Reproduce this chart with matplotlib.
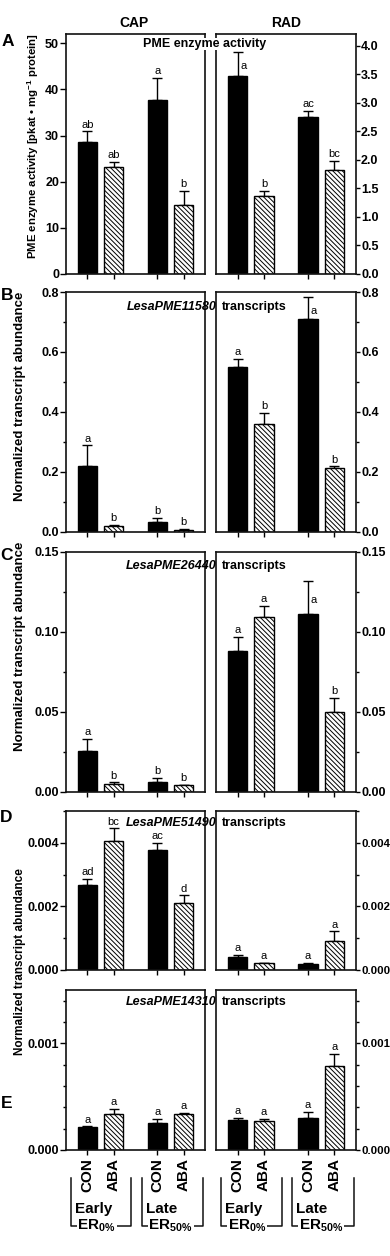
import matplotlib
matplotlib.use('Agg')
import matplotlib.pyplot as plt
from matplotlib.ticker import MultipleLocator, FormatStrFormatter, NullLocator
import matplotlib.transforms as mtransforms
from matplotlib.lines import Line2D

plt.rcParams['font.family'] = ['Liberation Sans', 'DejaVu Sans']
plt.rcParams['font.weight'] = 'bold'
plt.rcParams['mathtext.fontset'] = 'custom'
plt.rcParams['mathtext.rm'] = 'Liberation Sans:bold'
plt.rcParams['mathtext.bf'] = 'Liberation Sans:bold'
plt.rcParams['mathtext.it'] = 'Liberation Sans:bold:italic'
plt.rcParams['mathtext.default'] = 'bf'
plt.rcParams['hatch.linewidth'] = 0.7

# ---------------- data ----------------
conditions = ['CON', 'ABA', 'CON', 'ABA']
stages = ['Early', 'Late']
stage_er = ['0%', '50%']
tissues = ['CAP', 'RAD']
panel_letters = ['A', 'B', 'C', 'D', 'E']
genes = ['PME enzyme activity', 'LesaPME11580', 'LesaPME26440', 'LesaPME51490', 'LesaPME14310']

# Panel A: PME enzyme activity
pme_cap = [28.7, 23.2, 37.7, 14.9]
pme_cap_err = [2.2, 1.1, 4.8, 3.1]
pme_cap_sig = ['ab', 'ab', 'a', 'b']
pme_rad = [3.47, 1.36, 2.76, 1.82]
pme_rad_err = [0.43, 0.10, 0.10, 0.17]
pme_rad_sig = ['a', 'b', 'ac', 'bc']

# Panel B: LesaPME11580
p11580_cap = [0.221, 0.021, 0.032, 0.008]
p11580_cap_err = [0.068, 0.003, 0.015, 0.002]
p11580_cap_sig = ['a', 'b', 'b', 'b']
p11580_rad = [0.550, 0.361, 0.710, 0.213]
p11580_rad_err = [0.028, 0.036, 0.073, 0.006]
p11580_rad_sig = ['a', 'b', 'a', 'b']

# Panel C: LesaPME26440
p26440_cap = [0.0254, 0.0052, 0.0062, 0.0041]
p26440_cap_err = [0.0079, 0.0008, 0.0025, 0.0004]
p26440_cap_sig = ['a', 'b', 'b', 'b']
p26440_rad = [0.0883, 0.1091, 0.1113, 0.0502]
p26440_rad_err = [0.0086, 0.0073, 0.0207, 0.0085]
p26440_rad_sig = ['a', 'a', 'a', 'b']

# Panel D: LesaPME51490
p51490_cap = [0.00266, 0.00407, 0.00376, 0.00211]
p51490_cap_err = [0.00021, 0.00039, 0.00024, 0.00024]
p51490_cap_sig = ['ad', 'bc', 'ac', 'd']
p51490_rad = [0.00040, 0.00021, 0.00019, 0.00090]
p51490_rad_err = [0.00008, 0.00001, 0.00004, 0.00032]
p51490_rad_sig = ['a', 'a', 'a', 'a']

# Panel E: LesaPME14310
p14310_cap = [0.000216, 0.000342, 0.000254, 0.000342]
p14310_cap_err = [0.000007, 0.000047, 0.000041, 0.000009]
p14310_cap_sig = ['a', 'a', 'a', 'a']
p14310_rad = [0.000279, 0.000270, 0.000300, 0.000787]
p14310_rad_err = [0.000021, 0.000025, 0.000057, 0.000113]
p14310_rad_sig = ['a', 'a', 'a', 'a']

# ---------------- layout ----------------
W, H = 390, 1256
fig = plt.figure(figsize=(W / 100, H / 100), dpi=100)


def fx(x):
    return x / W


def fy(y):
    return 1 - y / H


rows_px = [(34, 274), (292, 532), (552, 792), (811, 970), (990, 1150)]
cols_px = [(66, 205), (216, 356)]
xpos = [0, 1, 2.67, 3.67]
bar_w = 0.725
xlim = (-0.82, 4.49)
hatch = '\\' * 7

panels = [
    (pme_cap, pme_cap_err, pme_cap_sig, pme_rad, pme_rad_err, pme_rad_sig),
    (p11580_cap, p11580_cap_err, p11580_cap_sig, p11580_rad, p11580_rad_err, p11580_rad_sig),
    (p26440_cap, p26440_cap_err, p26440_cap_sig, p26440_rad, p26440_rad_err, p26440_rad_sig),
    (p51490_cap, p51490_cap_err, p51490_cap_sig, p51490_rad, p51490_rad_err, p51490_rad_sig),
    (p14310_cap, p14310_cap_err, p14310_cap_sig, p14310_rad, p14310_rad_err, p14310_rad_sig),
]
ylims = [((0, 52), (0, 4.21)), ((0, 0.8), (0, 0.8)), ((0, 0.15), (0, 0.15)),
         ((0, 0.005), (0, 0.005)), ((0, 0.0015), (0, 0.0015))]
majors = [(10, 0.5), (0.2, 0.2), (0.05, 0.05), (0.002, 0.002), (0.001, 0.001)]
minors = [(None, None), (0.1, 0.1), (0.025, 0.025), (0.001, 0.001), (0.0002, 0.0002)]
fmts = [('%d', '%.1f'), ('%.1f', '%.1f'), ('%.2f', '%.2f'), ('%.3f', '%.3f'), ('%.3f', '%.3f')]
side_labels = {(0, 1, 0), (1, 1, 2), (2, 1, 2)}

axes_grid = []
for r, (top, bot) in enumerate(rows_px):
    row_axes = []
    for c, (lft, rgt) in enumerate(cols_px):
        ax = fig.add_axes([fx(lft), fy(bot), (rgt - lft) / W, (bot - top) / H])
        vals = panels[r][3 * c]
        errs = panels[r][3 * c + 1]
        sigs = panels[r][3 * c + 2]
        con_x = [xpos[i] for i in (0, 2)]
        aba_x = [xpos[i] for i in (1, 3)]
        ax.errorbar(xpos, vals, yerr=[[0] * 4, errs], fmt='none', ecolor='black',
                    elinewidth=1.0, capsize=3.5, capthick=1.0, zorder=1)
        ax.bar(con_x, [vals[0], vals[2]], width=bar_w, color='black',
               edgecolor='black', linewidth=1.0, zorder=2)
        ax.bar(aba_x, [vals[1], vals[3]], width=bar_w, color='white',
               edgecolor='black', linewidth=1.0, hatch=hatch, zorder=2)
        for i in range(4):
            if (r, c, i) in side_labels:
                ax.annotate(sigs[i], (xpos[i], vals[i] + errs[i] / 2), xytext=(4, -4),
                            textcoords='offset points', ha='center', va='baseline',
                            fontsize=8, fontweight='normal')
            else:
                ax.annotate(sigs[i], (xpos[i], vals[i] + errs[i]), xytext=(0, 2.6),
                            textcoords='offset points', ha='center', va='baseline',
                            fontsize=8, fontweight='normal')
        ax.set_xlim(*xlim)
        ax.set_ylim(*ylims[r][c])
        ax.yaxis.set_major_locator(MultipleLocator(majors[r][c]))
        if minors[r][c] is not None:
            ax.yaxis.set_minor_locator(MultipleLocator(minors[r][c]))
        else:
            ax.yaxis.set_minor_locator(NullLocator())
        ax.yaxis.set_major_formatter(FormatStrFormatter(fmts[r][c]))
        ax.set_xticks(xpos)
        if r == 4:
            ax.set_xticklabels(conditions, rotation=90, fontsize=11, fontweight='bold')
        else:
            ax.set_xticklabels([])
        ax.tick_params(axis='x', length=3.5, width=1.0, direction='out', pad=2)
        if c == 0:
            ax.tick_params(axis='y', which='major', length=4, width=1.0, pad=1,
                           labelsize=9, left=True, right=False)
            ax.tick_params(axis='y', which='minor', length=2.5, width=1.0,
                           left=True, right=False)
        else:
            ax.yaxis.tick_right()
            rsize = 9 if r < 3 else 8.2
            ax.tick_params(axis='y', which='major', length=3, width=1.0, pad=0.6,
                           labelsize=rsize, left=False, right=True, labelright=True,
                           labelleft=False)
            ax.tick_params(axis='y', which='minor', length=2.5, width=1.0,
                           left=False, right=True)
        for lab in ax.get_yticklabels():
            lab.set_fontweight('bold')
        for sp in ax.spines.values():
            sp.set_linewidth(1.2)
            sp.set_color('#111111')
        ax.set_facecolor('none')
        row_axes.append(ax)
    axes_grid.append(row_axes)

# ---------------- titles and labels ----------------
fig.text(fx(134), fy(23), tissues[0], ha='center', va='center', fontsize=10, fontweight='bold')
fig.text(fx(286), fy(23), tissues[1], ha='center', va='center', fontsize=10, fontweight='bold')

letter_pos = [(8, 41), (7, 295), (7, 556), (6, 817), (7, 1104)]
for (x, y), L in zip(letter_pos, panel_letters):
    fig.text(fx(x), fy(y), L, ha='center', va='center', fontsize=12.5, fontweight='bold')

fig.text(fx(205), fy(44), genes[0], ha='center', va='center', fontsize=9, fontweight='bold',
         zorder=5, bbox=dict(facecolor='white', edgecolor='none', pad=0.3))
gene_y = [307, 566, 823, 1002]
for g, y in zip(genes[1:], gene_y):
    fig.text(fx(217), fy(y), g, ha='right', va='center', fontsize=9, fontweight='bold',
             fontstyle='italic', zorder=5)
    fig.text(fx(221.5), fy(y), 'transcripts', ha='left', va='center', fontsize=9,
             fontweight='bold', zorder=5)

fig.text(fx(33), fy(146), 'PME enzyme activity [pkat • mg$^{-1}$ protein]', rotation=90,
         ha='center', va='center', fontsize=8.2, fontweight='bold')
for y in (396, 646):
    fig.text(fx(20), fy(y), 'Normalized transcript abundance', rotation=90,
             ha='center', va='center', fontsize=9.5, fontweight='bold')
fig.text(fx(20), fy(962), 'Normalized transcript abundance', rotation=90,
         ha='center', va='center', fontsize=8.5, fontweight='bold')

# ---------------- group brackets under row E ----------------
bracket_x = [(-0.63, 1.67), (2.08, 4.41)]
y_top, y_bot = 1178, 1226
for ax in axes_grid[4]:
    tr = mtransforms.blended_transform_factory(ax.transData, fig.transFigure)
    for (xl, xr), st, er in zip(bracket_x, stages, stage_er):
        line = Line2D([xl, xl, xr, xr], [fy(y_top), fy(y_bot), fy(y_bot), fy(y_top)],
                      transform=tr, color='#111111', linewidth=1.1, clip_on=False)
        fig.add_artist(line)
        off = mtransforms.offset_copy(tr, fig=fig, x=4, y=0, units='dots')
        fig.text(xl, fy(1213), st, transform=off, ha='left', va='baseline',
                 fontsize=11, fontweight='bold')
        off2 = mtransforms.offset_copy(tr, fig=fig, x=6.5, y=0, units='dots')
        fig.text(xl, fy(1230), 'ER$_{' + er.replace('%', r'\%') + '}$', transform=off2,
                 ha='left', va='baseline', fontsize=11, fontweight='bold', zorder=5,
                 bbox=dict(facecolor='white', edgecolor='none', pad=0.6))

fig.savefig('out.png', dpi=100)
